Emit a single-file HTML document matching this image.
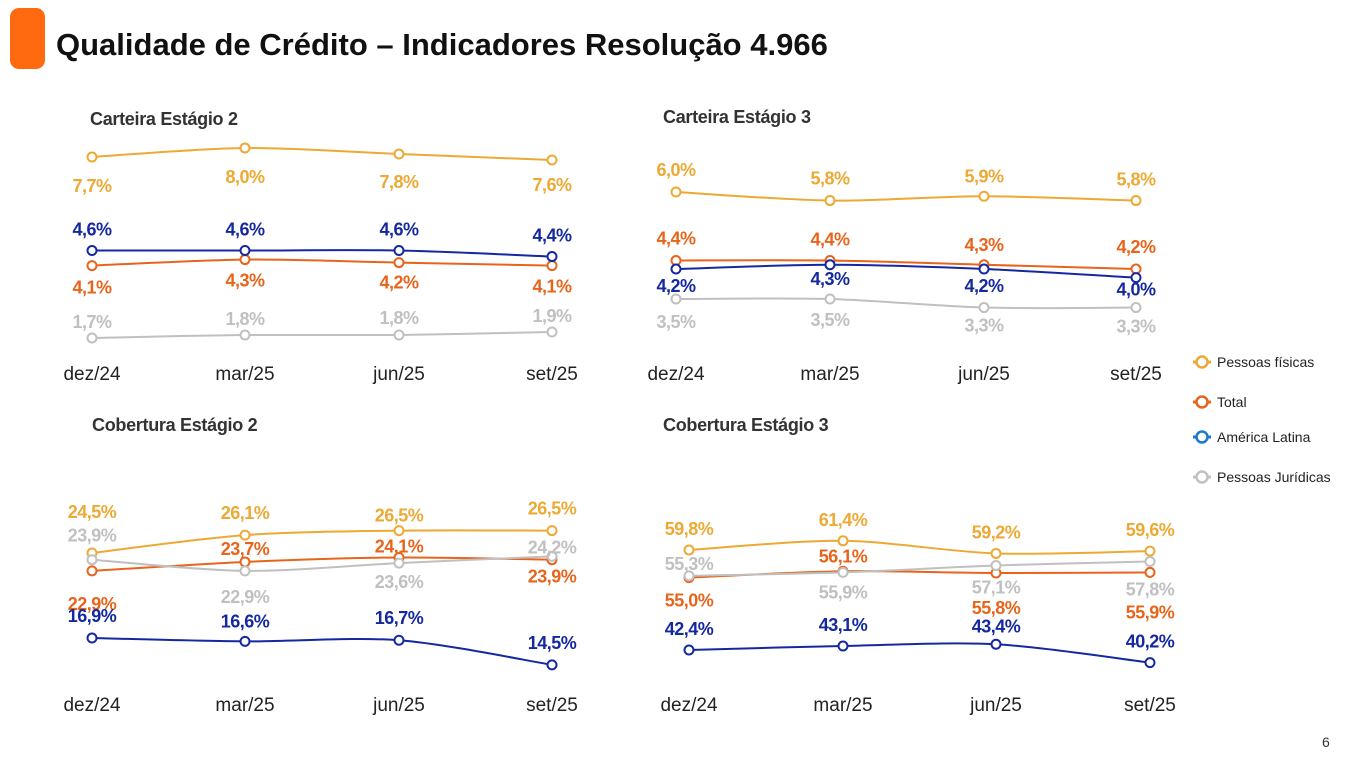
<!DOCTYPE html>
<html><head><meta charset="utf-8"><style>
body{margin:0;width:1365px;height:768px;background:#fff;overflow:hidden;font-family:"Liberation Sans",sans-serif}
svg{position:absolute;left:0;top:0}
</style></head><body>
<svg id="chart" width="1365" height="768">
<rect x="10" y="8" width="35" height="61" rx="9" fill="#FF6A10"/>
<text x="56" y="55" font-size="31" font-weight="bold" fill="#111">Qualidade de Crédito – Indicadores Resolução 4.966</text>
<text x="1322" y="747" font-size="14" fill="#333">6</text>
<g>
 <g><line x1="1193" y1="362" x2="1211" y2="362" stroke="#EDA933" stroke-width="3"/><circle cx="1202" cy="362" r="5.5" fill="#fff" stroke="#EDA933" stroke-width="2.5"/><text x="1217" y="367" font-size="14" fill="#222">Pessoas físicas</text></g>
 <g><line x1="1193" y1="402" x2="1211" y2="402" stroke="#E8641B" stroke-width="3"/><circle cx="1202" cy="402" r="5.5" fill="#fff" stroke="#E8641B" stroke-width="2.5"/><text x="1217" y="407" font-size="14" fill="#222">Total</text></g>
 <g><line x1="1193" y1="437" x2="1211" y2="437" stroke="#1A78D0" stroke-width="3"/><circle cx="1202" cy="437" r="5.5" fill="#fff" stroke="#1A78D0" stroke-width="2.5"/><text x="1217" y="442" font-size="14" fill="#222">América Latina</text></g>
 <g><line x1="1193" y1="477" x2="1211" y2="477" stroke="#C2C2C2" stroke-width="3"/><circle cx="1202" cy="477" r="5.5" fill="#fff" stroke="#C2C2C2" stroke-width="2.5"/><text x="1217" y="482" font-size="14" fill="#222">Pessoas Jurídicas</text></g>
</g>
</svg>
<script>
const categories = ["dez/24","mar/25","jun/25","set/25"];
const seriesNames = ["pf","total","latam","pj"];
const colors = ["#EDA933","#E8641B","#1428A0","#C0C0C0"];
// panel 1: Carteira Estágio 2
const cart2PF = [7.7,8.0,7.8,7.6];
const cart2Total = [4.1,4.3,4.2,4.1];
const cart2Latam = [4.6,4.6,4.6,4.4];
const cart2PJ = [1.7,1.8,1.8,1.9];
// panel 2: Carteira Estágio 3
const cart3PF = [6.0,5.8,5.9,5.8];
const cart3Total = [4.4,4.4,4.3,4.2];
const cart3Latam = [4.2,4.3,4.2,4.0];
const cart3PJ = [3.5,3.5,3.3,3.3];
// panel 3: Cobertura Estágio 2
const cob2PF = [24.5,26.1,26.5,26.5];
const cob2Total = [22.9,23.7,24.1,23.9];
const cob2Latam = [16.9,16.6,16.7,14.5];
const cob2PJ = [23.9,22.9,23.6,24.2];
// panel 4: Cobertura Estágio 3
const cob3PF = [59.8,61.4,59.2,59.6];
const cob3Total = [55.0,56.1,55.8,55.9];
const cob3Latam = [42.4,43.1,43.4,40.2];
const cob3PJ = [55.3,55.9,57.1,57.8];

const panels = [
 {name:"carteira-estagio-2", title:"Carteira Estágio 2", tx:90, ty:125, xs:[92,245,399,552], axisY:380,
  v0:7.7,p0:157,v1:1.7,p1:338, data:[cart2PF,cart2Total,cart2Latam,cart2PJ],
  dy:[[29,29,28,25],[22,21,20,21],[-21,-21,-21,-21],[-16,-16,-17,-16]]},
 {name:"carteira-estagio-3", title:"Carteira Estágio 3", tx:663, ty:123, xs:[676,830,984,1136], axisY:380,
  v0:6.0,p0:192,v1:3.5,p1:299, data:[cart3PF,cart3Total,cart3Latam,cart3PJ],
  dy:[[-22,-22,-20,-21],[-22,-21,-20,-22],[17,14,17,12],[23,21,18,19]]},
 {name:"cobertura-estagio-2", title:"Cobertura Estágio 2", tx:92, ty:431, xs:[92,245,399,552], axisY:711,
  v0:24.5,p0:553,v1:16.9,p1:638, data:[cob2PF,cob2Total,cob2Latam,cob2PJ],
  dy:[[-41,-22,-15,-22],[33,-13,-11,17],[-22,-20,-22,-22],[-24,26,19,-9]]},
 {name:"cobertura-estagio-3", title:"Cobertura Estágio 3", tx:663, ty:431, xs:[689,843,996,1150], axisY:711,
  v0:59.8,p0:550,v1:42.4,p1:650, data:[cob3PF,cob3Total,cob3Latam,cob3PJ],
  dy:[[-21,-21,-21,-21],[23,-15,35,40],[-21,-21,-18,-21],[-12,20,22,28]]}
];
const NS="http://www.w3.org/2000/svg";
const svg=document.getElementById("chart");
function mk(tag,attrs,parent){const e=document.createElementNS(NS,tag);for(const k in attrs)e.setAttribute(k,attrs[k]);parent.appendChild(e);return e;}
function fmt(v){return v.toFixed(1).replace(".",",")+"%";}
function smooth(pts){let d="M"+pts[0][0]+","+pts[0][1];for(let i=0;i<pts.length-1;i++){const p0=pts[i-1]||pts[i],p1=pts[i],p2=pts[i+1],p3=pts[i+2]||p2;const t=0.15;
 const c1=[p1[0]+(p2[0]-p0[0])*t,p1[1]+(p2[1]-p0[1])*t],c2=[p2[0]-(p3[0]-p1[0])*t,p2[1]-(p3[1]-p1[1])*t];d+=" C"+c1+" "+c2+" "+p2;}return d;}
panels.forEach(p=>{
 const g=mk("g",{},svg);
 
 
 const yScale=v=>p.p0+(v-p.v0)*(p.p1-p.p0)/(p.v1-p.v0);
 const t=mk("text",{x:p.tx,y:p.ty,"font-size":18,"font-weight":"bold",fill:"#333","letter-spacing":"-0.3"},g);t.textContent=p.title;
 
 
 categories.forEach((c,i)=>{const a=mk("text",{x:p.xs[i],y:p.axisY,"font-size":19,fill:"#222","text-anchor":"middle"},g);a.textContent=c;
  
  });
 p.data.forEach((vals,s)=>{
  const pts=vals.map((v,i)=>[p.xs[i],yScale(v)]);
  const path=mk("path",{d:smooth(pts),fill:"none",stroke:colors[s],"stroke-width":2},g);
  
  
  pts.forEach((pt,i)=>{
   const c=mk("circle",{cx:pt[0],cy:pt[1],r:4.5,fill:"#fff",stroke:colors[s],"stroke-width":2},g);
   
   
   const l=mk("text",{x:pt[0],y:pt[1]+p.dy[s][i]+6,"font-size":18,"font-weight":"bold",fill:colors[s],"text-anchor":"middle","letter-spacing":"-0.5"},g);
   l.textContent=fmt(vals[i]);
   
   
  });
 });
});
</script>
</body></html>
